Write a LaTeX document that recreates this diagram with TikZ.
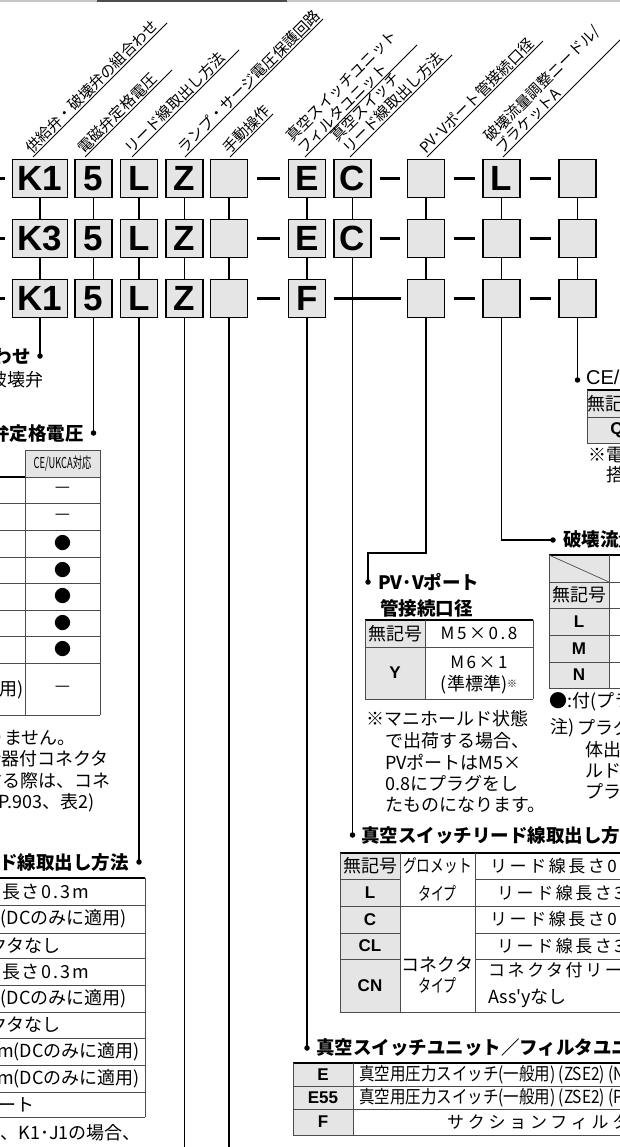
\documentclass[tikz,border=0pt]{standalone}
\usepackage{fontspec}
\usepackage{graphicx}
\setmainfont{Liberation Sans}
\newfontfamily\jp{Noto Sans CJK JP}
\newfontfamily\hv{Liberation Sans}
\usetikzlibrary{calc}
\definecolor{boxgray}{gray}{0.90}
\definecolor{cellgray}{gray}{0.90}
\definecolor{tline}{gray}{0.30}
\definecolor{toprulec}{gray}{0.78}
\newcommand\mklab[5]{%
  \coordinate (#1s) at (#2,#3);
  \coordinate (#1e) at ($(#2,#3)+(#4,-#4)$);
  \draw[labl] (#1s) -- (#1e);
  \node[labt] (#1t) at (#1s) {#5};
}
\begin{document}
\begin{tikzpicture}[x=1pt,y=-1pt,
  cbox/.style={draw=black,line width=1.6pt,fill=boxgray,minimum width=37pt,minimum height=38pt,inner sep=0pt,font=\hv\bfseries\fontsize{35}{35}\selectfont},
  wbox/.style={cbox,minimum width=55pt},
  dsh/.style={line width=2.8pt},
  conn/.style={line width=1.4pt},
  dot/.style={circle,fill=black,inner sep=0pt,minimum size=5.5pt},
  labl/.style={line width=0.8pt},
  labt/.style={font=\jp\fontsize{15}{16.5}\selectfont,inner sep=1pt,rotate=45,anchor=south west,align=left},
  ttl/.style={font=\jp\bfseries\fontsize{18.5}{21}\selectfont,inner sep=0pt},
  tt/.style={font=\jp\fontsize{18}{21}\selectfont,inner sep=0pt},
  ttw/.style={font=\jp\fontsize{18}{21}\selectfont\addfontfeature{LetterSpace=10},inner sep=0pt},
  tts/.style={font=\jp\fontsize{17}{21}\selectfont\addfontfeature{LetterSpace=15},inner sep=0pt},
  bsym/.style={font=\hv\bfseries\fontsize{17}{20}\selectfont,inner sep=0pt},
  grid/.style={draw=tline,line width=0.7pt},
  trule/.style={draw=black,line width=1.3pt},
]
\useasboundingbox (0,0) rectangle (620,1147);
\clip (0,0) rectangle (620,1147);
\fill[white] (0,0) rectangle (620,1147);

% top rule
\draw[toprulec,line width=1.6pt] (0,0.8) -- (620,0.8);
\draw[black!70,line width=2pt] (97,1) -- (287,1);

% rotated labels
\mklab{la}{33}{157}{134}{供給弁・破壊弁の組合わせ}
\mklab{lb}{85}{157}{87}{電磁弁定格電圧}
\mklab{lc}{132}{157}{107}{リード線取出し方法}
\mklab{ld}{185}{157}{138}{ランプ・サージ電圧保護回路}
\mklab{le}{230}{157}{43}{手動操作}
\mklab{lf}{305}{157}{112}{真空スイッチユニット\\フィルタユニット}
\mklab{lg}{350}{157}{102}{真空スイッチ\\リード線取出し方法}
\mklab{lh}{427}{157}{116}{PV･Vポート管接続口径}
\mklab{li}{503}{157}{135}{破壊流量調整ニードル/\\ブラケットA}

% boxes row 1
\node[wbox] (a1) at (40,178.5) {K1};
\node[cbox] (a2) at (93.5,178.5) {5};
\node[cbox] (a3) at (139,178.5) {L};
\node[cbox] (a4) at (184.5,178.5) {Z};
\node[cbox] (a5) at (229,178.5) {};
\node[cbox] (a6) at (307,178.5) {E};
\node[cbox] (a7) at (352.5,178.5) {C};
\node[cbox] (a8) at (426,178.5) {};
\node[cbox] (a9) at (501.5,178.5) {L};
\node[cbox] (a10) at (577.5,178.5) {};
% row 2
\node[wbox] (b1) at (40,238.5) {K3};
\node[cbox] (b2) at (93.5,238.5) {5};
\node[cbox] (b3) at (139,238.5) {L};
\node[cbox] (b4) at (184.5,238.5) {Z};
\node[cbox] (b5) at (229,238.5) {};
\node[cbox] (b6) at (307,238.5) {E};
\node[cbox] (b7) at (352.5,238.5) {C};
\node[cbox] (b8) at (426,238.5) {};
\node[cbox] (b9) at (501.5,238.5) {};
\node[cbox] (b10) at (577.5,238.5) {};
% row 3
\node[wbox] (c1) at (40,298.5) {K1};
\node[cbox] (c2) at (93.5,298.5) {5};
\node[cbox] (c3) at (139,298.5) {L};
\node[cbox] (c4) at (184.5,298.5) {Z};
\node[cbox] (c5) at (229,298.5) {};
\node[cbox] (c6) at (307,298.5) {F};
\node[cbox] (c8) at (426,298.5) {};
\node[cbox] (c9) at (501.5,298.5) {};
\node[cbox] (c10) at (577.5,298.5) {};

% dashes
\foreach \r/\yy in {a/178.5,b/238.5,c/298.5}{
  \coordinate (\r0) at (-12,\yy);
  \draw[dsh,shorten >=7pt] (\r0) -- (\r1);
  \draw[dsh,shorten <=9pt,shorten >=8pt] (\r5) -- (\r6);
  \draw[dsh,shorten <=9pt,shorten >=7pt] (\r8) -- (\r9);
  \draw[dsh,shorten <=9pt,shorten >=7pt] (\r9) -- (\r10);
}
\draw[dsh,shorten <=8pt,shorten >=7pt] (a7) -- (a8);
\draw[dsh,shorten <=8pt,shorten >=7pt] (b7) -- (b8);
\draw[dsh,shorten <=8pt,shorten >=6pt] (c6) -- (c8);

% vertical connectors between rows
\foreach \k in {1,...,10}{ \draw[conn] (a\k) -- (b\k); }
\foreach \k in {1,2,3,4,5,6,8,9,10}{ \draw[conn] (b\k) -- (c\k); }

% leaders to descriptions
\node[dot] (d1) at (40,356) {};
\node[dot] (d2) at (93.5,433) {};
\node[dot] (d3) at (139,862) {};
\node[dot] (d6) at (307,1048) {};
\node[dot] (d7) at (352.5,835) {};
\node[dot] (d8) at (368,582) {};
\node[dot] (d9) at (553,540) {};
\node[dot] (d10) at (577.5,380) {};
\coordinate (e4) at (184.5,1160);
\coordinate (e5) at (229,1160);
\coordinate (k8a) at (426,553);
\coordinate (k8b) at (368,553);
\coordinate (k9a) at (501.5,540);
\draw[conn] (c1) -- (d1.center);
\draw[conn] (c2) -- (d2.center);
\draw[conn] (c3) -- (d3.center);
\draw[conn] (c4) -- (e4);
\draw[conn] (c5) -- (e5);
\draw[conn] (c6) -- (d6.center);
\draw[conn] (b7) -- (d7.center);
\draw[conn] (c8) -- (k8a) -- (k8b) -- (d8.center);
\draw[conn] (c9) -- (k9a) -- (d9.center);
\draw[conn] (c10) -- (d10.center);

% ---- titles
\node[ttl,anchor=east] (t1) at (31,356) {供給弁・破壊弁の組合わせ};
\node[tt,anchor=east] (t1b) at (44,380) {供給弁・破壊弁};
\node[ttl,anchor=east] (t2) at (84,433) {電磁弁定格電圧};
\node[ttl,anchor=east] (t3) at (129,862) {リード線取出し方法};
\node[ttl,anchor=west] (t6) at (316,1048) {真空スイッチユニット／フィルタユニット};
\node[ttl,anchor=west] (t7) at (361,835) {真空スイッチリード線取出し方法};
\node[ttl,anchor=west] (t8) at (378,582) {PV･Vポート};
\node[ttl,anchor=west] (t8b) at (380,608) {管接続口径};
\node[ttl,anchor=west] (t9) at (563,540) {破壊流量調整ニードル/ブラケットA};
\node[font=\hv\fontsize{20}{20}\selectfont,inner sep=0pt,anchor=west] (t10) at (586,377) {CE/UKCA{\jp 対応}};

% ---- table: voltage
\fill[cellgray] (25,450) rectangle (100,477);
\foreach \yy in {503,530,557,583,610,636,663,715}{ \draw[grid] (-5,\yy) -- (100,\yy); }
\draw[grid] (25,450) -- (25,715);
\draw[grid] (100,450) -- (100,715);
\draw[grid] (25,450) -- (100,450);
\draw[trule] (-5,477) -- (25,477);
\draw[grid] (25,477) -- (100,477);
\node[font=\jp\fontsize{15}{15}\selectfont,inner sep=0pt] (vh) at (62.5,463.5) {\scalebox{0.62}[1]{CE/UKCA対応}};
\foreach \yy/\s [count=\i] in {490/—,516.5/—,543.5/●,570/●,596.5/●,623/●,649.5/●,689/—}{
  \node[font=\jp\fontsize{17}{17}\selectfont,inner sep=0pt] (vc\i) at (62.5,\yy) {\s};
}
\node[tt,anchor=east] (vl) at (24,690) {に適用)};
\node[tt,anchor=east] (vn1) at (76,738) {はありません。};
\node[tt,anchor=east] (vn2) at (109,759) {遮断器付コネクタ};
\node[tt,anchor=east] (vn3) at (111,781) {使用する際は、コネ};
\node[tt,anchor=east] (vn4) at (95,803) {P.903、表2)};

% ---- table: lead wire
\draw[trule] (-5,878) -- (145,878);
\foreach \yy in {905,933,958,985,1012,1038,1065,1092,1117}{ \draw[grid] (-5,\yy) -- (145,\yy); }
\draw[grid] (145,878) -- (145,1117);
\node[ttw,anchor=east] (lw1) at (89,891.5) {線長さ0.3m};
\node[tt,anchor=east] (lw2) at (127,919) {(DCのみに適用)};
\node[tt,anchor=east] (lw3) at (61,945.5) {コネクタなし};
\node[ttw,anchor=east] (lw4) at (89,971.5) {線長さ0.3m};
\node[tt,anchor=east] (lw5) at (127,998.5) {(DCのみに適用)};
\node[tt,anchor=east] (lw6) at (61,1025) {コネクタなし};
\node[tt,anchor=east] (lw7) at (140,1051.5) {3m(DCのみに適用)};
\node[tt,anchor=east] (lw8) at (140,1078.5) {3m(DCのみに適用)};
\node[tt,anchor=east] (lw9) at (35,1104.5) {シート};
\node[tt,anchor=east] (lwn) at (141,1133) {記号が、K1･J1の場合、};

% ---- table: vacuum switch lead wire
\fill[cellgray] (340,853) rectangle (400,1012);
\draw[trule] (340,853) -- (625,853);
\draw[grid] (340,879) -- (400,879); \draw[grid] (475,879) -- (625,879);
\draw[grid] (340,906) -- (625,906);
\draw[grid] (340,933) -- (400,933); \draw[grid] (475,933) -- (625,933);
\draw[grid] (340,959) -- (400,959); \draw[grid] (475,959) -- (625,959);
\draw[grid] (340,1012) -- (625,1012);
\foreach \xx in {340,400,475}{ \draw[grid] (\xx,853) -- (\xx,1012); }
\node[tt] (s1) at (370,866) {無記号};
\node[bsym] (s2) at (370,892.5) {L};
\node[bsym] (s3) at (370,919.5) {C};
\node[bsym] (s4) at (370,946) {CL};
\node[bsym] (s5) at (370,985.5) {CN};
\node[tt] (g1) at (437.5,866) {\scalebox{0.76}[1]{グロメット}};
\node[tt] (g2) at (437.5,893) {\scalebox{0.72}[1]{タイプ}};
\node[tt] (g3) at (437.5,965) {コネクタ};
\node[tt] (g4) at (437.5,985) {\scalebox{0.72}[1]{タイプ}};
\node[tts,anchor=west] (w1) at (490,866) {リード線長さ0.3m};
\node[tts,anchor=west] (w2) at (497,893) {リード線長さ3m};
\node[tts,anchor=west] (w3) at (490,919.5) {リード線長さ0.3m};
\node[tts,anchor=west] (w4) at (497,946) {リード線長さ3m};
\node[tts,anchor=west] (w5) at (488,970) {コネクタ付リード線};
\node[tt,anchor=west] (w6) at (488,998) {Ass'yなし};

% ---- table: switch unit / filter
\fill[cellgray] (293,1063) rectangle (353,1135);
\draw[trule] (293,1063) -- (625,1063);
\draw[grid] (293,1086) -- (625,1086);
\draw[grid] (293,1109) -- (625,1109);
\draw[grid] (293,1135) -- (625,1135);
\draw[grid] (293,1063) -- (293,1135);
\draw[grid] (353,1063) -- (353,1135);
\node[bsym] (u1) at (323,1075) {E};
\node[bsym] (u2) at (323,1097.5) {E55};
\node[bsym] (u3) at (323,1122) {F};
\node[tt,anchor=west] (v1) at (359,1075) {\scalebox{0.86}[1]{真空用圧力スイッチ(一般用) (ZSE2) (NPN出力)}};
\node[tt,anchor=west] (v2) at (359,1097.5) {\scalebox{0.86}[1]{真空用圧力スイッチ(一般用) (ZSE2) (PNP出力)}};
\node[tts,anchor=west,font=\jp\fontsize{17}{21}\selectfont\addfontfeature{LetterSpace=22}] (v3) at (447,1122) {サクションフィルタ};

% ---- table: PV port
\fill[cellgray] (365,620) rectangle (425,699);
\draw[trule] (365,620) -- (533,620);
\draw[grid] (365,647) -- (533,647);
\draw[grid] (365,699) -- (533,699);
\foreach \xx in {365,425,533}{ \draw[grid] (\xx,620) -- (\xx,699); }
\node[tt] (p1) at (395,633.5) {無記号};
\node[bsym] (p2) at (395,673) {Y};
\node[tts] (p3) at (479,633.5) {M5×0.8};
\node[tts] (p4) at (479,662) {M6×1};
\node[tt] (p5) at (479,685) {(準標準)\raisebox{3pt}{\fontsize{10}{10}\selectfont ※}};
\node[tt,anchor=west] (pn1) at (366,719) {※マニホールド状態};
\node[tt,anchor=west] (pn2) at (385,740.5) {で出荷する場合、};
\node[tt,anchor=west] (pn3) at (385,762) {PVポートはM5×};
\node[tt,anchor=west] (pn4) at (385,783.5) {0.8にプラグをし};
\node[tt,anchor=west] (pn5) at (385,805) {たものになります。};

% ---- table: release flow needle
\fill[cellgray] (549,555) rectangle (609,688);
\draw[trule] (549,555) -- (625,555);
\foreach \yy in {582,608,635,662,688}{ \draw[grid] (549,\yy) -- (625,\yy); }
\draw[grid] (549,555) -- (549,688);
\draw[grid] (609,555) -- (609,688);
\draw[grid] (549,555) -- (609,582);
\node[tt] (n1) at (579,595) {無記号};
\node[bsym] (n2) at (579,621.5) {L};
\node[bsym] (n3) at (579,648.5) {M};
\node[bsym] (n4) at (579,675) {N};
\node[tt,anchor=west] (nn1) at (549,702) {●:付(プラグ)};
\node[tt,anchor=west] (nn2) at (550,728) {注)};
\node[tt,anchor=west] (nn3) at (577,728) {プラグ付};
\node[tt,anchor=west] (nn4) at (585,750) {体出荷};
\node[tt,anchor=west] (nn5) at (585,771) {ルド状};
\node[tt,anchor=west] (nn6) at (585,792) {プラグ};

% ---- table: CE
\fill[cellgray] (587,390) rectangle (640,443);
\draw[trule] (587,390) -- (625,390);
\draw[grid] (587,417) -- (625,417);
\draw[grid] (587,443) -- (625,443);
\draw[grid] (587,390) -- (587,443);
\node[tt] (q1) at (614,403.5) {無記号};
\node[bsym] (q2) at (617,430) {Q};
\node[tt,anchor=west] (qn1) at (588,455) {※電磁弁};
\node[tt,anchor=west] (qn2) at (606,475) {搭載};
\end{tikzpicture}
\end{document}
